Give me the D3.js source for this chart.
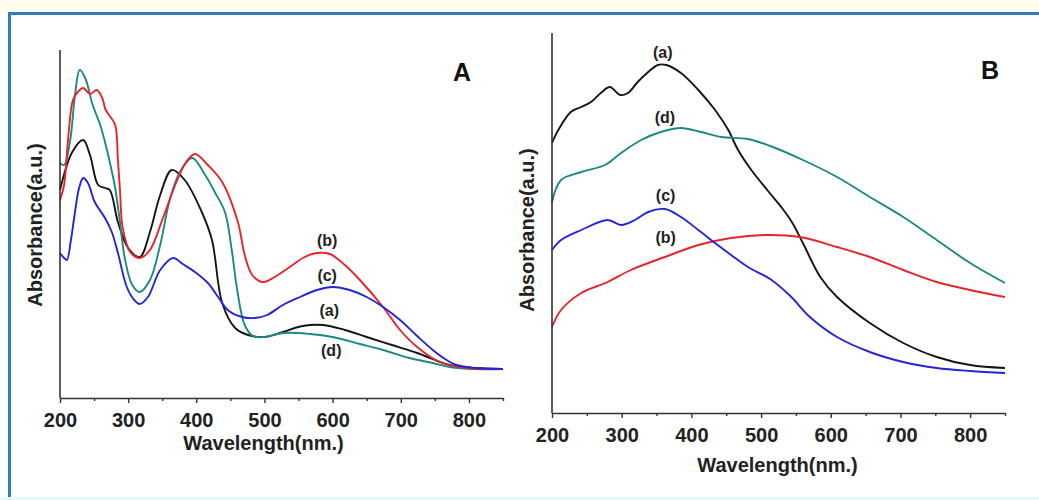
<!DOCTYPE html>
<html>
<head>
<meta charset="utf-8">
<script src="https://d3js.org/d3.v7.min.js"></script>
<style>
  body { margin: 0; background: #fff; }
  svg { display: block; font-family: 'Liberation Sans', Arial, sans-serif; }
</style>
</head>
<body>
<div id="chart"></div>
<script>
// x ticks shared by both panels
var xTicks = [200, 300, 400, 500, 600, 700, 800];
var xMinor = [250, 350, 450, 550, 650, 750, 850];

// Panel A: [wavelength nm, absorbance a.u.]
var specA_a = [[200,2.08],[218,2.46],[234,2.58],[244,2.43],[256,2.13],[266,2.10],[273,2.08],[285,1.76],[300,1.50],[317,1.41],[332,1.66],[347,2.03],[364,2.28],[383,2.18],[408,1.86],[423,1.58],[438,0.95],[457,0.70],[476,0.63],[500,0.61],[527,0.66],[556,0.72],[586,0.73],[618,0.68],[650,0.61],[687,0.53],[724,0.45],[772,0.33],[809,0.30],[850,0.29]];
var specA_b = [[200,1.98],[206,2.13],[212,2.60],[219,2.98],[226,3.06],[234,3.10],[244,3.04],[254,3.08],[262,3.00],[267,2.88],[273,2.82],[281,2.73],[285,2.38],[288,2.08],[292,1.70],[303,1.46],[317,1.40],[332,1.48],[350,1.78],[369,2.13],[385,2.36],[398,2.44],[417,2.33],[438,2.16],[461,1.76],[471,1.43],[482,1.23],[498,1.16],[515,1.21],[537,1.31],[559,1.41],[577,1.45],[596,1.44],[618,1.33],[640,1.18],[674,0.91],[699,0.68],[724,0.51],[757,0.36],[797,0.30],[850,0.29]];
var specA_c = [[200,1.45],[206,1.40],[210,1.38],[216,1.58],[222,1.86],[228,2.10],[234,2.20],[241,2.15],[251,1.96],[266,1.80],[276,1.66],[285,1.45],[298,1.11],[309,0.98],[317,0.94],[329,1.01],[347,1.28],[366,1.40],[380,1.34],[398,1.26],[417,1.15],[432,1.01],[446,0.88],[467,0.81],[486,0.80],[504,0.83],[527,0.93],[552,1.01],[577,1.08],[600,1.11],[625,1.08],[650,1.01],[674,0.91],[699,0.78],[724,0.62],[747,0.48],[765,0.39],[782,0.33],[809,0.30],[850,0.29]];
var specA_d = [[200,2.35],[206,2.33],[215,2.58],[222,3.03],[229,3.28],[237,3.20],[248,2.93],[259,2.73],[266,2.56],[273,2.36],[281,2.10],[288,1.76],[295,1.40],[306,1.13],[317,1.06],[332,1.18],[347,1.53],[361,1.98],[376,2.26],[394,2.40],[413,2.23],[427,2.06],[442,1.86],[452,1.48],[460,1.08],[471,0.73],[483,0.62],[500,0.61],[527,0.65],[567,0.64],[600,0.61],[640,0.54],[674,0.48],[713,0.40],[747,0.35],[772,0.31],[809,0.29],[850,0.29]];

// Panel B
var specB_a = [[200,2.70],[209,2.83],[227,3.01],[242,3.06],[256,3.11],[270,3.20],[283,3.26],[298,3.18],[309,3.20],[323,3.31],[338,3.41],[352,3.48],[364,3.48],[385,3.40],[410,3.23],[434,3.03],[453,2.83],[467,2.63],[486,2.43],[510,2.22],[530,2.05],[545,1.90],[560,1.70],[585,1.36],[609,1.16],[656,0.90],[704,0.70],[752,0.56],[800,0.48],[850,0.45]];
var specB_b = [[200,0.86],[213,1.03],[242,1.20],[280,1.31],[313,1.43],[362,1.56],[410,1.68],[457,1.75],[506,1.78],[556,1.76],[609,1.66],[656,1.56],[704,1.43],[752,1.31],[800,1.23],[850,1.16]];
var specB_c = [[200,1.63],[213,1.73],[242,1.83],[280,1.93],[299,1.88],[319,1.93],[338,2.01],[362,2.04],[385,1.96],[410,1.83],[434,1.70],[457,1.58],[481,1.46],[513,1.34],[542,1.17],[570,0.96],[609,0.76],[656,0.61],[704,0.51],[752,0.45],[800,0.42],[850,0.40]];
var specB_d = [[200,2.11],[213,2.33],[242,2.41],[276,2.48],[299,2.60],[328,2.73],[356,2.81],[385,2.85],[414,2.81],[443,2.76],[481,2.74],[513,2.67],[560,2.53],[609,2.36],[656,2.16],[704,1.96],[752,1.73],[800,1.50],[850,1.30]];

var colors = {a: '#151515', b: '#e8232a', c: '#2424d8', d: '#1b8a82'};

var W = 1039, H = 500;
var svg = d3.select('#chart').append('svg').attr('width', W).attr('height', H);

// frame: cream strip on top, blue border top + left, pale band at bottom
svg.append('rect').attr('x', 0).attr('y', 0).attr('width', W).attr('height', 12).attr('fill', '#fffcee');
svg.append('rect').attr('x', 0).attr('y', 497).attr('width', W).attr('height', 3).attr('fill', '#e8fbfc');
svg.append('line').attr('x1', 8).attr('x2', W).attr('y1', 13.5).attr('y2', 13.5)
    .attr('stroke', '#2b7cc0').attr('stroke-width', 3);
svg.append('line').attr('x1', 9.5).attr('x2', 9.5).attr('y1', 12).attr('y2', 497)
    .attr('stroke', '#2b7cc0').attr('stroke-width', 3);

function panel(p) {
	var x = d3.scaleLinear().domain([200, 850]).range([p.left, p.right]);
	var y = d3.scaleLinear().domain([0, p.ymax]).range([p.bottom, p.top]);
	var g = svg.append('g');

	var line = d3.line()
	    .x(function(d) { return x(d[0]); })
	    .y(function(d) { return y(d[1]); })
	    .curve(d3.curveCatmullRom.alpha(0.5));

	p.series.forEach(function(s) {
		g.append('path')
		    .datum(s.data)
		    .attr('fill', 'none')
		    .attr('stroke', colors[s.key])
		    .attr('stroke-width', 1.9)
		    .attr('d', line);
	});

	// x axis
	var ax = g.append('g')
	    .attr('transform', 'translate(0,' + p.bottom + ')')
	    .call(d3.axisBottom(x).tickValues(xTicks).tickSize(5).tickPadding(10).tickSizeOuter(0));
	ax.select('.domain').attr('stroke', '#333').attr('stroke-width', 1.6);
	ax.selectAll('.tick line').attr('stroke', '#333').attr('stroke-width', 1.4);
	ax.selectAll('text')
	    .style('font-size', '20px').style('font-weight', 'bold')
	    .attr('fill', '#222').style('font-family', "'Liberation Sans', Arial, sans-serif");
	g.append('g')
	    .attr('transform', 'translate(0,' + p.bottom + ')')
	    .call(d3.axisBottom(x).tickValues(xMinor).tickSize(3).tickFormat(''))
	    .call(function(a) {
		    a.select('.domain').remove();
		    a.selectAll('line').attr('stroke', '#333').attr('stroke-width', 1.4);
	    });

	// y axis: bare line
	g.append('line')
	    .attr('x1', p.left).attr('x2', p.left)
	    .attr('y1', p.top).attr('y2', p.bottom)
	    .attr('stroke', '#333').attr('stroke-width', 1.6);

	g.append('text')
	    .attr('x', (p.left + p.right) / 2 + p.titleDx)
	    .attr('y', p.xTitleY)
	    .attr('text-anchor', 'middle')
	    .style('font-size', '20px').style('font-weight', 'bold').attr('fill', '#222')
	    .text('Wavelength(nm.)');

	g.append('text')
	    .attr('transform', 'translate(' + p.yTitleX + ',' + p.yTitleY + ') rotate(-90)')
	    .attr('text-anchor', 'middle')
	    .style('font-size', '20px').style('font-weight', 'bold').attr('fill', '#222')
	    .text('Absorbance(a.u.)');

	g.append('text')
	    .attr('x', p.letter[0]).attr('y', p.letter[1])
	    .attr('text-anchor', 'middle')
	    .style('font-size', '25px').style('font-weight', 'bold').attr('fill', '#111')
	    .text(p.name);

	p.labels.forEach(function(l) {
		g.append('text')
		    .attr('x', x(l[1])).attr('y', y(l[2]))
		    .attr('text-anchor', 'middle')
		    .attr('dominant-baseline', 'central')
		    .style('font-size', '16px').style('font-weight', 'bold').attr('fill', '#222')
		    .text(l[0]);
	});
}

panel({
	name: 'A', left: 60, right: 503, top: 50, bottom: 398, ymax: 3.48,
	xTitleY: 450, titleDx: -18, yTitleX: 42, yTitleY: 225, letter: [462, 81],
	series: [
		{key: 'a', data: specA_a}, {key: 'd', data: specA_d},
		{key: 'b', data: specA_b}, {key: 'c', data: specA_c}
	],
	labels: [['(b)', 592, 1.58], ['(c)', 592, 1.23], ['(a)', 595, 0.88], ['(d)', 598, 0.48]]
});

panel({
	name: 'B', left: 552, right: 1005, top: 33, bottom: 413, ymax: 3.8,
	xTitleY: 472, titleDx: -1, yTitleX: 534, yTitleY: 230, letter: [990, 79],
	series: [
		{key: 'a', data: specB_a}, {key: 'd', data: specB_d},
		{key: 'b', data: specB_b}, {key: 'c', data: specB_c}
	],
	labels: [['(a)', 359, 3.61], ['(d)', 362, 2.96], ['(c)', 363, 2.18], ['(b)', 363, 1.76]]
});
</script>
</body>
</html>
